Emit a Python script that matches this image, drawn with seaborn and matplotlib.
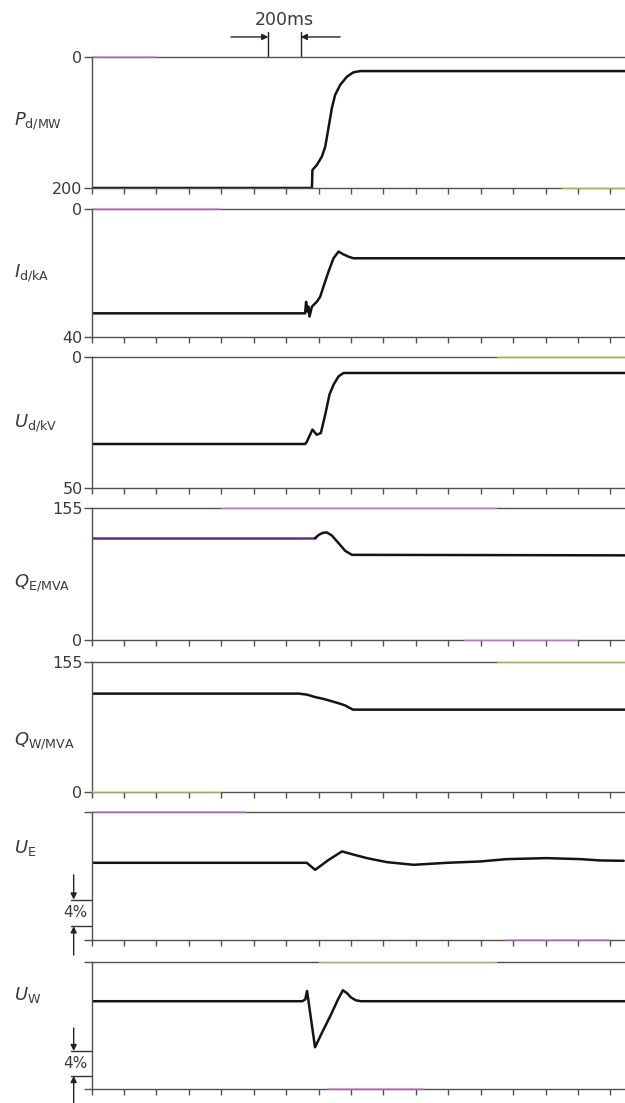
import numpy as np
import pandas as pd
import matplotlib
matplotlib.use('Agg')
import matplotlib.pyplot as plt
import matplotlib.transforms as mtrans
import seaborn as sns

# ---------------- data (time in s) ----------------
t_pd = [0, 1.359, 1.362, 1.389, 1.420, 1.441, 1.461, 1.482, 1.502, 1.533, 1.575, 1.615, 1.657, 3.29]
v_pd = [200, 200, 172.5, 164.9, 152.2, 137.0, 108.4, 77.9, 58.0, 42.7, 30.0, 23.4, 21.5, 21.5]

t_id = [0, 1.317, 1.323, 1.330, 1.337, 1.344, 1.359, 1.389, 1.410, 1.430, 1.461, 1.492, 1.523,
        1.554, 1.585, 1.615, 3.29]
v_id = [32.6, 32.6, 29.0, 32.0, 30.5, 33.6, 30.5, 29.0, 27.4, 24.3, 19.6, 15.4, 13.3,
        14.2, 14.9, 15.4, 15.4]

t_ud = [0, 1.317, 1.327, 1.345, 1.362, 1.389, 1.414, 1.441, 1.467, 1.492, 1.523, 1.554, 3.29]
v_ud = [33.2, 33.2, 32.4, 30.0, 27.7, 29.7, 29.0, 22.0, 14.4, 10.6, 7.4, 6.1, 6.1]

t_qe = [0, 1.379, 1.395, 1.410, 1.430, 1.451, 1.482, 1.523, 1.564, 1.606, 3.29]
v_qe = [119.7, 119.7, 122.5, 124.4, 126.0, 126.3, 122.7, 113.8, 104.7, 100.0, 99.4]

t_qw = [0, 1.28, 1.33, 1.378, 1.43, 1.476, 1.52, 1.563, 1.612, 3.29]
v_qw = [117.3, 117.3, 116.0, 113.2, 111.0, 108.5, 106.0, 103.3, 98.2, 98.2]

t_ue = [0, 1.327, 1.379, 1.46, 1.544, 1.62, 1.698, 1.821, 1.986, 2.192, 2.398, 2.56,
        2.807, 3.015, 3.138, 3.282]
v_ue = [0, 0, -1.05, 0.4, 1.7, 1.2, 0.7, 0.1, -0.3, 0.0, 0.2, 0.55, 0.7, 0.55, 0.35, 0.3]

t_uw = [0, 1.30, 1.318, 1.329, 1.378, 1.42, 1.47, 1.52, 1.55, 1.575, 1.60, 1.63, 1.661, 3.29]
v_uw = [0, 0, 0.3, 1.65, -7.4, -5.1, -2.5, 0.3, 1.76, 1.3, 0.6, 0.15, 0, 0]

labels = [r'$P_{\mathrm{d/MW}}$', r'$I_{\mathrm{d/kA}}$', r'$U_{\mathrm{d/kV}}$',
          r'$Q_{\mathrm{E/MVA}}$', r'$Q_{\mathrm{W/MVA}}$', r'$U_{\mathrm{E}}$', r'$U_{\mathrm{W}}$']
ylims = [(200, 0), (40, 0), (50, 0), (0, 155), (0, 155), (-11.55, 7.6), (-14.1, 6.3)]
ytick_text = [('200', '0'), ('40', '0'), ('50', '0'), ('0', '155'), ('0', '155'), None, None]
series = [(t_pd, v_pd), (t_id, v_id), (t_ud, v_ud), (t_qe, v_qe), (t_qw, v_qw),
          (t_ue, v_ue), (t_uw, v_uw)]

# faint print tints seen on the scanned axis lines: (panel, 'top'/'bottom', t0, t1, colour)
tints = [(0, 'top', 0.0, 0.4, '#e070e0'), (1, 'top', 0.0, 0.8, '#e070e0'),
         (3, 'top', 0.8, 2.5, '#f0a0f0'), (5, 'top', 0.0, 0.95, '#e070e0'),
         (3, 'bottom', 2.3, 3.0, '#f0a0f0'), (5, 'bottom', 2.55, 3.2, '#e070e0'),
         (6, 'bottom', 1.45, 2.05, '#e070e0'),
         (0, 'bottom', 2.9, 3.29, '#e8e870'), (2, 'top', 2.5, 3.29, '#e8e870'),
         (4, 'top', 2.5, 3.29, '#e8e870'), (4, 'bottom', 0.0, 0.8, '#e8e870'),
         (6, 'top', 1.4, 2.5, '#f0f0a0')]

# ---------------- style / layout ----------------
sns.set_style('white')
plt.rcParams['font.family'] = ['DejaVu Sans']
plt.rcParams['mathtext.fontset'] = 'dejavusans'

W, H = 625, 1103
fig = plt.figure(figsize=(W / 100, H / 100), dpi=100)
LEFT, RIGHT = 91.6, 625.0
panels = [(57, 188), (209, 337), (357, 488), (508, 640), (662, 792), (812, 940), (962, 1089)]
label_base = [125, 278, 427, 587, 745, 853, 1000]
AX_COL = '#505050'
TXT_COL = '#3a3a3a'
LINE_COL = '#141414'

axes = []
for i, ((top, bot), (t, v)) in enumerate(zip(panels, series)):
    ax = fig.add_axes([LEFT / W, 1 - bot / H, (RIGHT - LEFT) / W, (bot - top) / H])
    axes.append(ax)
    if i == 3:
        # QE trace: printed purple before the event, black afterwards
        df = pd.DataFrame({'t': t, 'v': v})
        sns.lineplot(data=df[df['t'] <= 1.379], x='t', y='v', ax=ax, color='#6a2a7a', lw=1.8)
        sns.lineplot(data=df[df['t'] >= 1.379], x='t', y='v', ax=ax, color=LINE_COL, lw=1.8)
    else:
        sns.lineplot(x=t, y=v, ax=ax, color=LINE_COL, lw=1.8)
    ax.set_xlim(0, 3.29)
    ax.set_ylim(*ylims[i])
    ax.set_xlabel('')
    ax.set_ylabel('')
    ax.set_facecolor('none')
    for s in ['left', 'top', 'bottom']:
        ax.spines[s].set_visible(True)
        ax.spines[s].set_color(AX_COL)
        ax.spines[s].set_linewidth(1.0)
    ax.spines['right'].set_visible(False)
    ax.set_xticks(np.arange(0, 3.21, 0.2))
    ax.set_xticklabels([])
    ax.tick_params(axis='x', bottom=True, direction='out', length=4, width=1, color=AX_COL)
    lo, hi = ylims[i]
    ax.set_yticks([lo, hi])
    if ytick_text[i] is not None:
        ax.set_yticklabels(list(ytick_text[i]))
    else:
        ax.set_yticklabels([])
    ax.tick_params(axis='y', left=True, direction='out', length=6, width=1, color=AX_COL,
                   pad=0.5, labelsize=11.5, labelcolor=TXT_COL)
    fig.text(14 / W, 1 - label_base[i] / H, labels[i], ha='left', va='baseline',
             fontsize=13, color=TXT_COL)

for (pi, side, a, b, col) in tints:
    ax = axes[pi]
    tr = mtrans.blended_transform_factory(ax.transData, ax.transAxes)
    yy = 1.0 if side == 'top' else 0.0
    ax.plot([a, b], [yy, yy], transform=tr, color=col, lw=1.4, alpha=0.6,
            clip_on=False, solid_capstyle='butt', zorder=5)

# ---------------- 200 ms marker on top panel ----------------
ax1 = axes[0]
tr1 = mtrans.blended_transform_factory(ax1.transData, ax1.transAxes)
m0, m1 = 1.09, 1.29
for m in (m0, m1):
    ax1.plot([m, m], [1.0, 1.19], transform=tr1, color='#222', lw=1.0, clip_on=False)
ax1.annotate('', xy=(m0, 1.153), xytext=(0.86, 1.153), xycoords=tr1, textcoords=tr1,
             arrowprops=dict(arrowstyle='-|>', color='#222', lw=1.0, mutation_scale=9,
                             shrinkA=0, shrinkB=0))
ax1.annotate('', xy=(m1, 1.153), xytext=(1.533, 1.153), xycoords=tr1, textcoords=tr1,
             arrowprops=dict(arrowstyle='-|>', color='#222', lw=1.0, mutation_scale=9,
                             shrinkA=0, shrinkB=0))
ax1.text((m0 + m1) / 2, 1.28, '200ms', transform=tr1, ha='center', va='center',
         fontsize=12.5, color=TXT_COL)

# ---------------- 4 % brackets ----------------
def bracket(ax, y_up, y_lo, y_arrow_top, y_arrow_bot):
    tr = mtrans.blended_transform_factory(ax.transAxes, ax.transData)
    for y in (y_up, y_lo):
        ax.plot([-0.0386, 0], [y, y], transform=tr, color='#333', lw=1.0, clip_on=False)
    xa = -0.0336
    ax.annotate('', xy=(xa, y_up), xytext=(xa, y_arrow_top), xycoords=tr, textcoords=tr,
                arrowprops=dict(arrowstyle='-|>', color='#222', lw=1.0, mutation_scale=9,
                                shrinkA=0, shrinkB=0))
    ax.annotate('', xy=(xa, y_lo), xytext=(xa, y_arrow_bot), xycoords=tr, textcoords=tr,
                arrowprops=dict(arrowstyle='-|>', color='#222', lw=1.0, mutation_scale=9,
                                shrinkA=0, shrinkB=0), annotation_clip=False)
    ax.text(-0.031, (y_up + y_lo) / 2, '4%', transform=tr, ha='center', va='center',
            fontsize=11, color=TXT_COL, clip_on=False)

bracket(axes[5], -5.5, -9.5, -1.8, -13.8)
bracket(axes[6], -8.0, -12.0, -4.3, -16.3)

fig.savefig('out.png', dpi=100)
